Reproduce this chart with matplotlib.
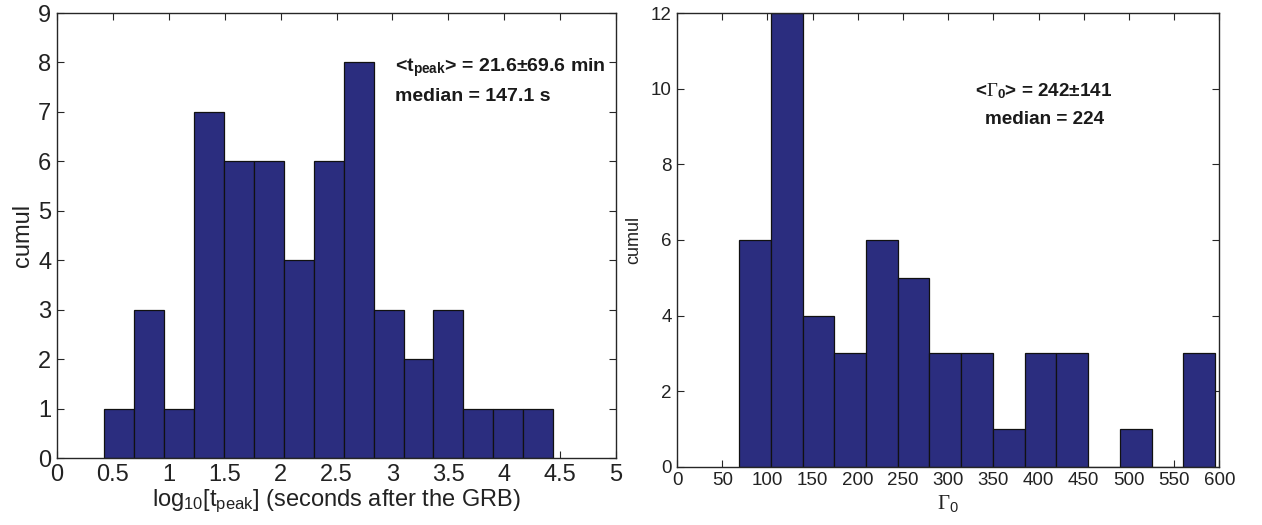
import numpy as np
import matplotlib
matplotlib.use("Agg")
import matplotlib.pyplot as plt

plt.rcParams['font.family'] = ['Liberation Sans', 'DejaVu Sans']
plt.rcParams['mathtext.fontset'] = 'custom'
plt.rcParams['mathtext.rm'] = 'Liberation Serif'
plt.rcParams['mathtext.sf'] = 'Liberation Sans'
plt.rcParams['mathtext.bf'] = 'Liberation Sans:bold'
plt.rcParams['mathtext.it'] = 'Liberation Serif:italic'

# ---- data: left panel (log10 t_peak histogram) ----
tpeak_bin_start = 0.423
tpeak_bin_width = 0.2676
tpeak_counts = [1, 3, 1, 7, 6, 6, 4, 6, 8, 3, 2, 3, 1, 1, 1]
tpeak_xticks = [0, 0.5, 1, 1.5, 2, 2.5, 3, 3.5, 4, 4.5, 5]
tpeak_yticks = [0, 1, 2, 3, 4, 5, 6, 7, 8, 9]

# ---- data: right panel (Gamma_0 histogram) ----
gamma_bin_start = 68.6
gamma_bin_width = 35.11
gamma_counts = [6, 12, 4, 3, 6, 5, 3, 3, 1, 3, 3, 0, 1, 0, 3]
gamma_xticks = [0, 50, 100, 150, 200, 250, 300, 350, 400, 450, 500, 550, 600]
gamma_yticks = [0, 2, 4, 6, 8, 10, 12]

bar_color = '#2b2d7f'
axis_color = '#262626'

fig = plt.figure(figsize=(12.62, 5.25), dpi=100)
axL = fig.add_axes([0.0452, 0.1276, 0.443, 0.8476])
axR = fig.add_axes([0.5365, 0.111, 0.4297, 0.864])


def draw_hist(ax, start, width, counts):
    edges = start + width * np.arange(len(counts))
    ax.bar(edges, counts, width=width, align='edge', color=bar_color,
           edgecolor='#111111', linewidth=0.9, zorder=2)


def style(ax, fs):
    for s in ax.spines.values():
        s.set_color(axis_color)
        s.set_linewidth(1.0)
        s.set_zorder(5)
    ax.tick_params(direction='in', top=True, right=True, length=5,
                   width=0.8, color=axis_color, labelsize=fs,
                   labelcolor='#222222', pad=4)


draw_hist(axL, tpeak_bin_start, tpeak_bin_width, tpeak_counts)
axL.set_xlim(0, 5)
axL.set_ylim(0, 9)
axL.set_xticks(tpeak_xticks)
axL.set_xticklabels([f"{v:g}" for v in tpeak_xticks])
axL.set_yticks(tpeak_yticks)
style(axL, 17)
axL.set_ylabel('cumul', fontsize=17, color='#222222', labelpad=3)
axL.set_xlabel(r'log$_{\mathsf{10}}$[t$_{\mathsf{peak}}$] (seconds after the GRB)',
               fontsize=17, color='#222222', labelpad=1)
axL.text(3.02, 7.83, r'<t$_{\mathbf{peak}}$> = 21.6±69.6 min', fontsize=14,
         fontweight='bold', ha='left', va='baseline', color='#1a1a1a')
axL.text(3.02, 7.22, 'median = 147.1 s', fontsize=14,
         fontweight='bold', ha='left', va='baseline', color='#1a1a1a')

draw_hist(axR, gamma_bin_start, gamma_bin_width, gamma_counts)
axR.set_xlim(0, 600)
axR.set_ylim(0, 12)
axR.set_xticks(gamma_xticks)
axR.set_yticks(gamma_yticks)
style(axR, 13.5)
axR.set_ylabel('cumul', fontsize=13, color='#222222', labelpad=6)
axR.set_xlabel(r'$\Gamma_{\mathsf{0}}$', fontsize=15, color='#222222', labelpad=3)
axR.text(406, 9.80, r'<$\Gamma_{\mathbf{0}}$> = 242±141', fontsize=13.6,
         fontweight='bold', ha='center', va='baseline', color='#1a1a1a')
axR.text(407, 9.06, 'median = 224', fontsize=13.6,
         fontweight='bold', ha='center', va='baseline', color='#1a1a1a')

fig.savefig('out.png', dpi=100)
